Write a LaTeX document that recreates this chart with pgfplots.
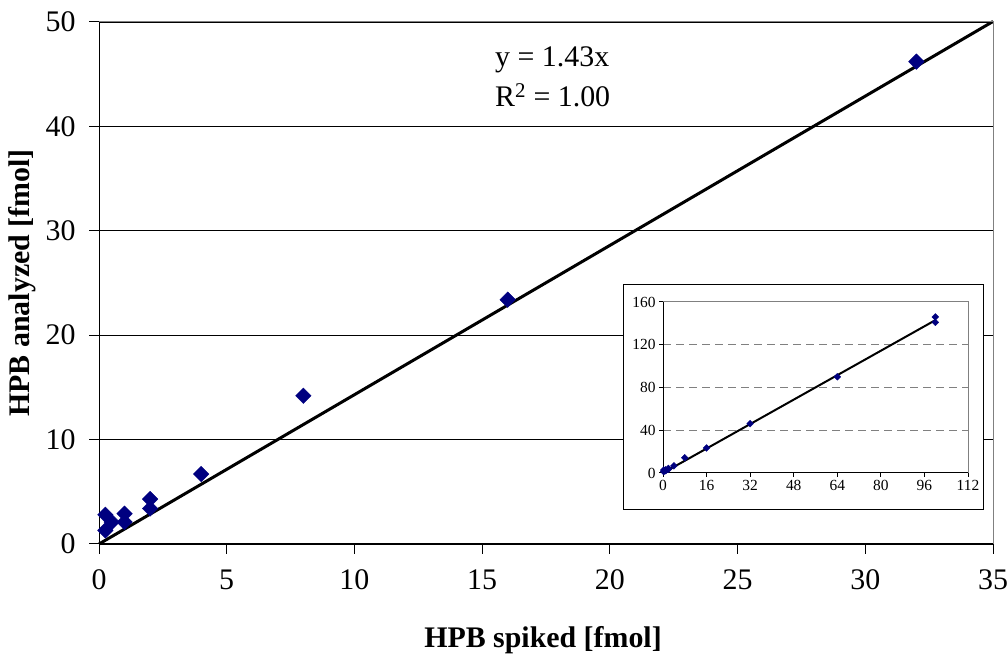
\documentclass[border=0pt]{standalone}
\usepackage{fontspec}
\setmainfont{Liberation Serif}
\usepackage{pgfplots}
\pgfplotsset{compat=1.18}
\definecolor{navy}{RGB}{0,0,128}
\definecolor{bordergray}{RGB}{128,128,128}
\begin{document}
\begin{tikzpicture}[x=1bp,y=1bp]
\path[use as bounding box] (0,0) rectangle (1008,655);
\begin{axis}[
  at={(99bp,111bp)}, anchor=south west,
  scale only axis, width=894bp, height=522bp,
  xmin=0, xmax=35, ymin=0, ymax=50,
  xtick={0,5,...,35}, ytick={0,10,...,50},
  axis x line*=bottom, axis y line*=left,
  axis line style={-, black, line width=1bp},
  tick align=outside, major tick length=10bp,
  tick style={black, line width=1bp},
  ymajorgrids, grid style={black, line width=0.8bp},
  ticklabel style={font=\fontsize{30}{36}\selectfont},
  xticklabel style={yshift=-12bp},
  yticklabel style={xshift=-10bp},
  /pgf/number format/assume math mode=true,
  clip=false,
]
\addplot[black, line width=3bp, no marks] coordinates {(0,0) (35,50.05)};
\addplot[only marks, mark=square*, mark size=5.5bp, mark options={rotate=45, fill=navy, draw=navy}] coordinates {
(0.25,1.3) (0.25,2.8) (0.5,2.1) (1,2.1) (1,2.9) (2,3.4) (2,4.3) (4,6.7) (8,14.2) (16,23.4) (32,46.2)};
\draw[bordergray, line width=1bp] (rel axis cs:0,1) -- (rel axis cs:1,1) -- (rel axis cs:1,0);
\end{axis}
\node[anchor=base, inner sep=0] at (543,7) {\fontsize{30}{36}\selectfont\bfseries HPB spiked [fmol]};
\node[rotate=90, anchor=center, inner sep=0] at (22,372) {\fontsize{30}{36}\selectfont\bfseries HPB analyzed [fmol]};
\node[anchor=base west, inner sep=0] at (495,588) {\fontsize{30}{36}\selectfont y = 1.43x};
\node[anchor=base west, inner sep=0] at (495,548) {\fontsize{30}{36}\selectfont R\textsuperscript{2} = 1.00};
\draw[black, line width=1bp, fill=white] (623,145) rectangle (983,370);
\begin{axis}[
  at={(663bp,182bp)}, anchor=south west,
  scale only axis, width=305bp, height=171bp,
  xmin=0, xmax=112, ymin=0, ymax=160,
  xtick={0,16,...,112}, ytick={0,40,...,160},
  axis x line*=bottom, axis y line*=left,
  axis line style={-, black, line width=1bp},
  tick align=outside, major tick length=4bp,
  tick style={black, line width=1bp},
  ymajorgrids, grid style={bordergray, line width=1bp, dash pattern=on 8bp off 5bp},
  ticklabel style={font=\fontsize{15.5}{18}\selectfont},
  /pgf/number format/assume math mode=true,
  clip=false,
]
\addplot[black, line width=2bp, no marks] coordinates {(0,0) (100,143)};
\addplot[only marks, mark=square*, mark size=2.4bp, mark options={rotate=45, fill=navy, draw=navy}] coordinates {
(0.25,1.3) (0.25,2.8) (0.5,2.1) (1,2.1) (1,2.9) (2,3.4) (2,4.3) (4,6.7) (8,14.2) (16,23.4) (32,46.2) (64,90) (100,141) (100,146)};
\draw[bordergray, line width=1bp] (rel axis cs:0,1) -- (rel axis cs:1,1) -- (rel axis cs:1,0);
\end{axis}
\end{tikzpicture}
\end{document}
